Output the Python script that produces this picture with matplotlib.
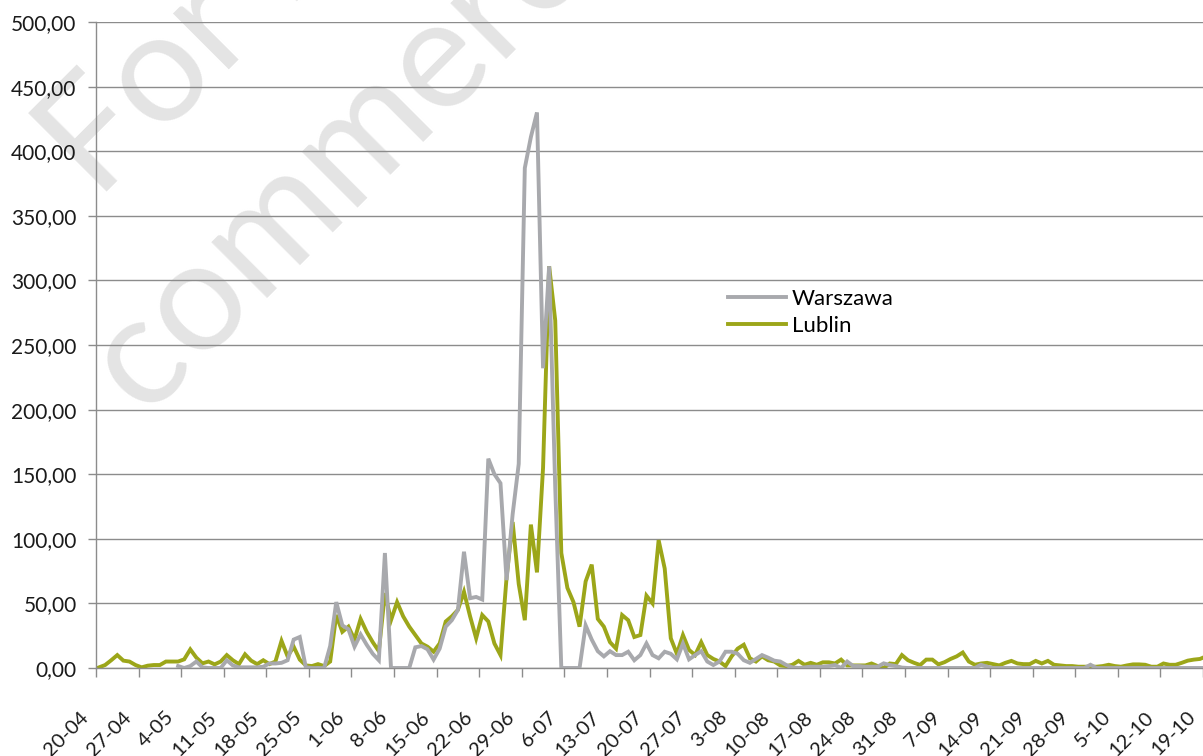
import numpy as np
import matplotlib
matplotlib.use("Agg")
import matplotlib.pyplot as plt
from matplotlib.transforms import ScaledTranslation

nan = np.nan

# weekly tick labels (dd-mm)
week_labels = ['20-04', '27-04', '4-05', '11-05', '18-05', '25-05', '1-06', '8-06',
               '15-06', '22-06', '29-06', '6-07', '13-07', '20-07', '27-07', '3-08',
               '10-08', '17-08', '24-08', '31-08', '7-09', '14-09', '21-09', '28-09',
               '5-10', '12-10', '19-10']

# daily values
warszawa = [nan, nan, nan, nan, nan, nan, nan, nan, nan, nan, nan, nan, nan,
            1.5, 0, 1.5, 5, 0.5, 0, 0, 0, 6, 2, 0.5, 0.5, 0.5, 0.5, 1, 3.5,
            3.5, 4, 6, 22, 24, 0.5, 0, 0, 0, 17, 51, 33, 30, 16.5, 26, 18, 11,
            6, 89, 0, 0, 0, 0, 16, 17, 14.5, 6.5, 15, 32, 37, 45, 90, 54, 55,
            53, 162, 150, 143, 68, 119, 158, 387, 411, 430, 232, 311, 140, 0,
            0, 0, 0, 33, 22, 13, 9, 13, 10, 10, 12.6, 6, 10, 19, 10, 7.5, 12.6,
            11, 6.7, 19, 6.7, 10, 13, 5, 2.3, 5, 12.6, 12.6, 11, 6, 4, 7, 10, 8,
            5.7, 5, 2.3, 0.5, 0, 0.5, 1, 1, 1, 1.5, 2.3, 0, 5, 1.5, 1.5, 1, 1,
            1, 3.6, 2.3, 1.5, 0.3, 0, 0, 0, 0, 0, 0, 0, 0, 0, 0, 0, 0, 2.5, 1,
            0, 0, 0, 0, 0, 0, 0, 0, 0, 0, 0, 0, 0, 0, 0, 0, 2.5, 0, 0, 0, 0, 0,
            0, 0, 0, 0, 0, 0, 0, 0, 0, 0, 0, 0, 0, 0]

lublin = [0.5, 2.3, 6, 10, 5.7, 5, 2.3, 0.5, 1.8, 2.3, 2.3, 5, 5, 5, 6.7, 14.4,
          8, 3.6, 5, 2.8, 5, 10, 6, 3, 10.6, 5.7, 3, 6, 3, 5, 21, 9, 16.5, 6.5,
          2, 1.5, 3, 1.5, 5, 41, 28, 32, 22, 38, 28, 20, 13, 58, 37, 51, 40, 32,
          25.5, 19, 16.5, 12.6, 19, 36, 40, 45, 59, 40, 23, 41, 36, 19, 10, 70,
          113, 65, 37, 111, 74, 155, 311, 269, 89, 62, 51, 32, 67, 80, 38, 32,
          20, 15, 41, 37, 24, 25.5, 56, 50, 99, 77, 23, 11, 25.5, 14, 10, 20,
          10, 7, 5, 1.5, 9, 15, 18, 7.5, 5, 9, 6, 5, 2, 1.5, 2.5, 5.5, 2.5, 4,
          2.5, 4.4, 4.4, 3.5, 6.5, 2, 2, 2, 2, 3.5, 1.5, 0, 3.5, 3, 10, 6, 4,
          2.3, 6.5, 6.5, 2.8, 4.5, 7, 9, 12, 5, 2.5, 3.5, 4, 3, 2, 4, 5.5, 3.5,
          3, 3, 5.5, 3.5, 5.5, 2.5, 2, 1.5, 1.5, 1, 1, 1, 1, 1.5, 2.5, 1.5, 1,
          2, 2.8, 2.8, 2.5, 1, 1, 3.5, 2.5, 2.5, 4, 5.7, 6.5, 7, 9]

plt.rcParams['font.family'] = ['Lato', 'DejaVu Sans']

fig = plt.figure(figsize=(12.03, 7.56), dpi=100)
ax = fig.add_axes([96 / 1203, 88 / 756, 1107 / 1203, 646 / 756])
ax.patch.set_alpha(0)

# faint watermark behind the chart
wm = dict(rotation=45, rotation_mode='anchor', ha='left', va='baseline',
          fontsize=112, color='#e4e4e4', zorder=-5)
fig.text(97 / 1203, 1 - 201 / 756, 'For non-', **wm)
fig.text(145 / 1203, 1 - 420 / 756, 'commercial use', **wm)

days = np.arange(len(lublin))
ax.plot(days, warszawa, color='#a8a9ad', lw=2.8, label='Warszawa', zorder=3,
        solid_joinstyle='miter')
ax.plot(days, lublin, color='#9ca619', lw=2.8, label='Lublin', zorder=2,
        solid_joinstyle='miter')

ax.set_xlim(-0.5, 181.5)
ax.set_ylim(0, 500)

ax.set_yticks(np.arange(0, 501, 50))
ax.set_yticklabels([('%.2f' % v).replace('.', ',') for v in np.arange(0, 501, 50)])
ax.yaxis.grid(True, color='#8c8c8c', lw=1.0)
ax.set_axisbelow(True)

ax.set_xticks(np.arange(len(week_labels)) * 7 - 0.5)
ax.set_xticklabels(week_labels, rotation=45, ha='right', va='top',
                   rotation_mode='anchor')

for s in ['top', 'right']:
    ax.spines[s].set_visible(False)
for s in ['left', 'bottom']:
    ax.spines[s].set_color('#8c8c8c')
    ax.spines[s].set_linewidth(1.0)

ax.tick_params(axis='y', length=6, width=1, color='#8c8c8c', pad=8,
               labelsize=15, labelcolor='#1a1a1a')
ax.tick_params(axis='x', length=6.5, width=1, color='#8c8c8c', pad=22.5,
               labelsize=14.5, labelcolor='#1a1a1a')

shift = ScaledTranslation(-16 / 100, 0, fig.dpi_scale_trans)
for lab in ax.get_xticklabels():
    lab.set_transform(lab.get_transform() + shift)

ax.legend(loc='upper left', bbox_to_anchor=(728 / 1203, 1 - 289 / 756),
          bbox_transform=fig.transFigure, frameon=False, fontsize=16,
          handlelength=2.6, handletextpad=0.28, labelspacing=0.3,
          borderpad=0, borderaxespad=0)

fig.savefig('out.png', dpi=100)
